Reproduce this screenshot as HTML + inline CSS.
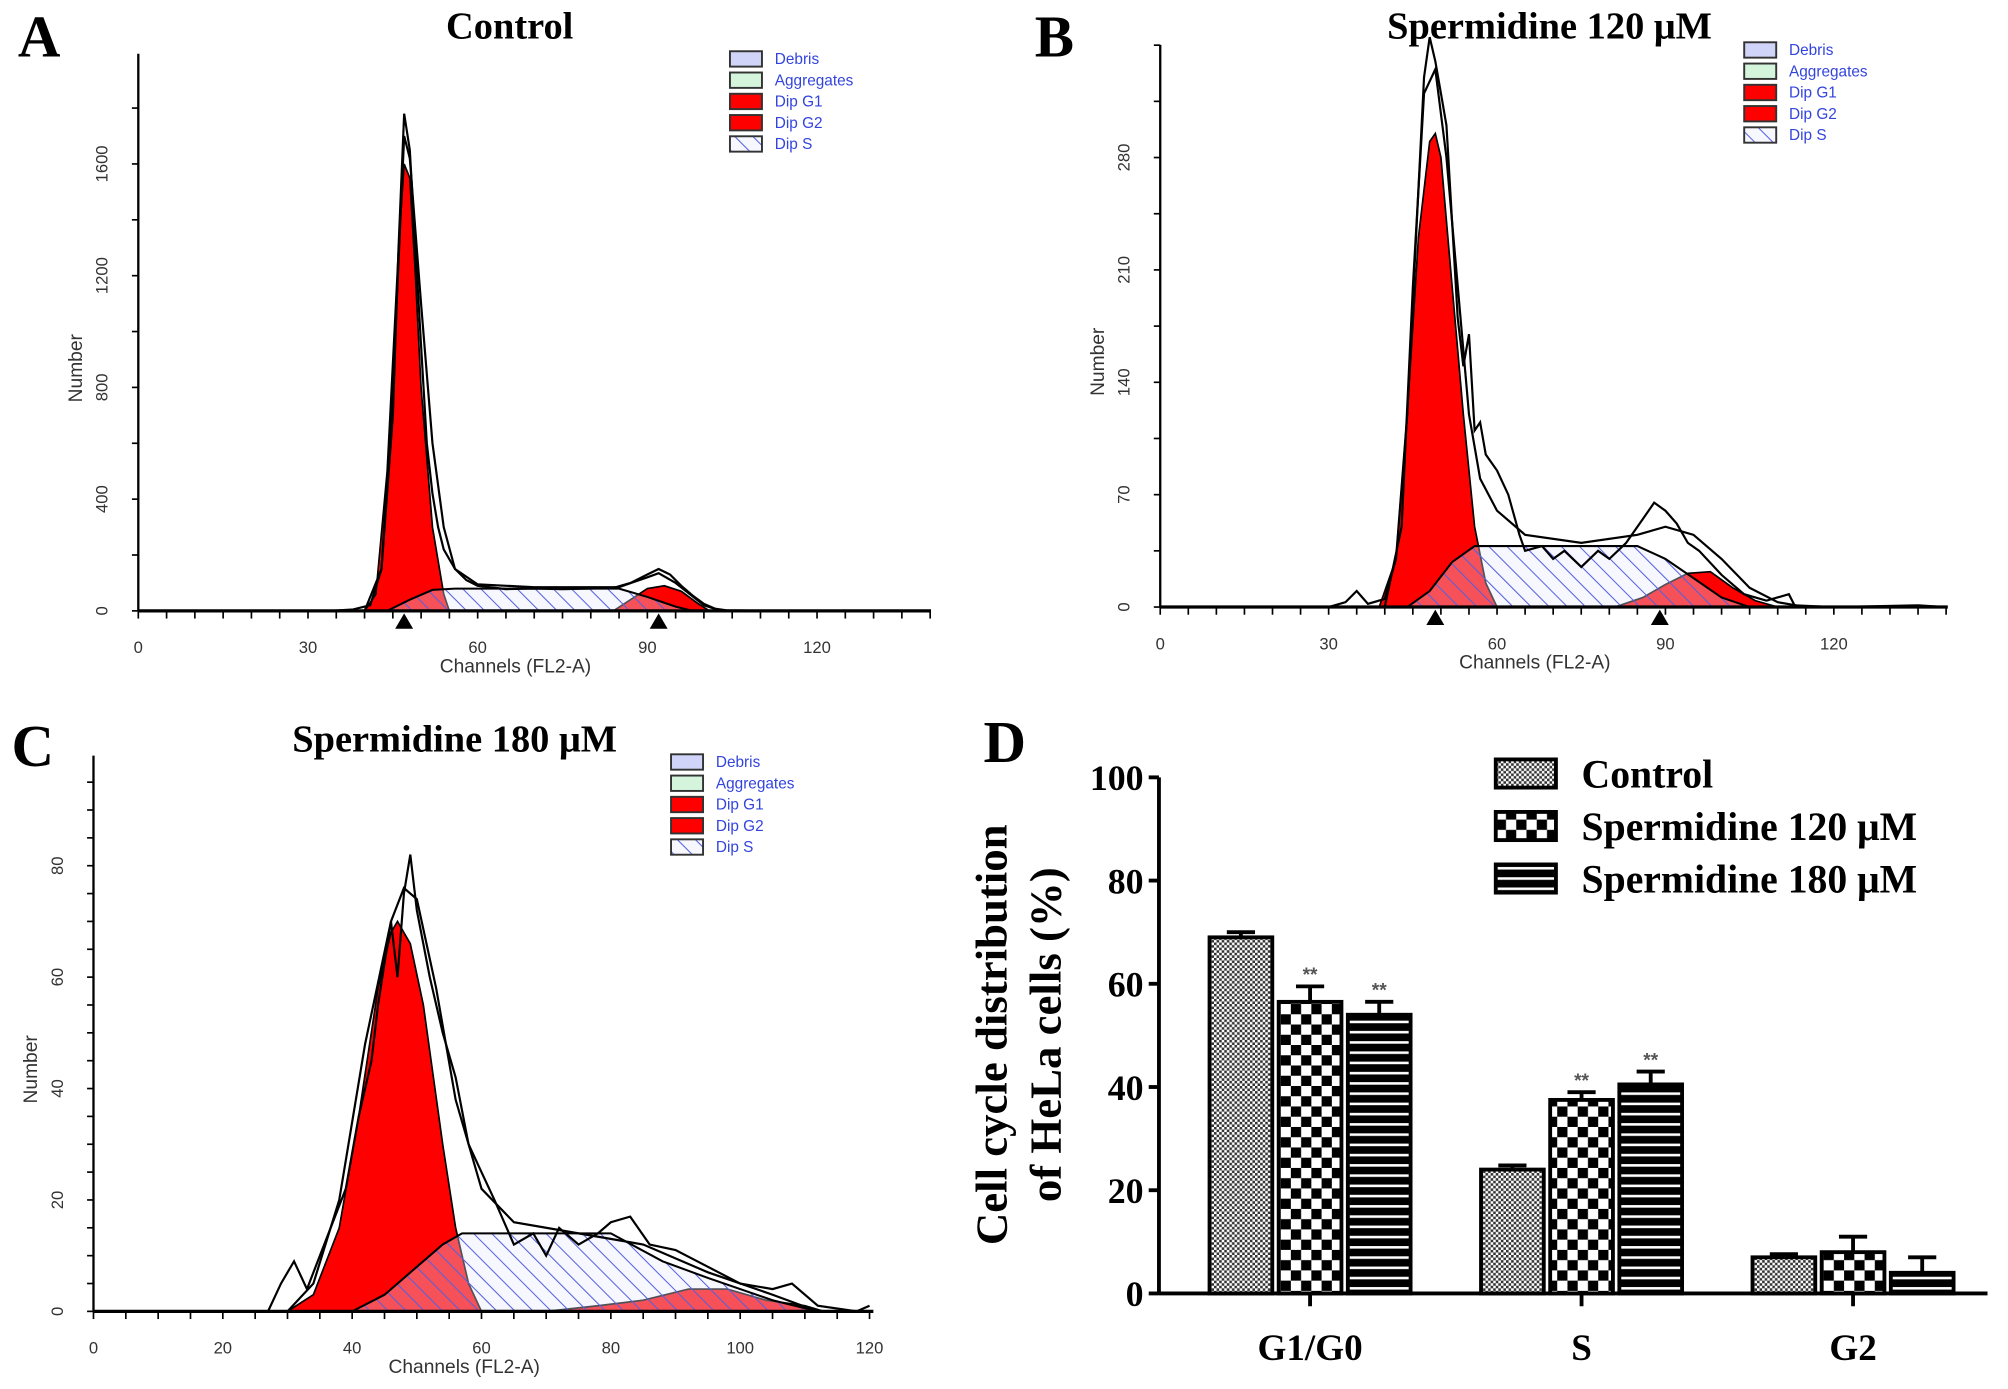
<!DOCTYPE html>
<html><head><meta charset="utf-8"><style>
html,body{margin:0;padding:0;background:#fff}
svg{display:block}
.t{font-family:"Liberation Sans",sans-serif;fill:#333}
.s{font-family:"Liberation Serif",serif;font-weight:bold;fill:#000}
.lg{font-family:"Liberation Sans",sans-serif;fill:#3344dd;font-size:12px}
</style></head><body>
<svg id="fig" width="2008" height="1389" viewBox="0 0 1568 1084.6" xmlns="http://www.w3.org/2000/svg">
<defs>
<pattern id="hatch" width="10" height="10" patternUnits="userSpaceOnUse" patternTransform="rotate(-45)">
<rect width="10" height="10" fill="rgba(230,232,255,0.35)"/><line x1="0" y1="0" x2="0" y2="10" stroke="#5560dd" stroke-width="1.6"/></pattern>
<pattern id="pCtrl" width="4" height="4" patternUnits="userSpaceOnUse"><rect width="4" height="4" fill="#fff"/><rect width="2" height="2" fill="#333"/><rect x="2" y="2" width="2" height="2" fill="#333"/></pattern>
<pattern id="p120" width="16" height="16" patternUnits="userSpaceOnUse"><rect width="16" height="16" fill="#fff"/><rect width="8" height="8" fill="#000"/><rect x="8" y="8" width="8" height="8" fill="#000"/></pattern>
<pattern id="p180" width="8" height="8" patternUnits="userSpaceOnUse"><rect width="8" height="8" fill="#000"/><rect y="5" width="8" height="2" fill="#fff"/></pattern>
</defs>
<g id="root"></g>
</svg>
<script>
// ---- Panel A data (channel, count)
const aOutline=[[0,0],[34,0],[38,5],[41,20],[43,150],[45,700],[46,1300],[47,1780],[48,1650],[49,1300],[50,950],[51,600],[52,420],[53,300],[54,220],[56,150],[58,110],[60,90],[65,78],[70,80],[75,78],[80,80],[84,82],[87,100],[90,130],[92,150],[94,130],[96,90],[98,55],[100,25],[102,8],[104,2],[108,1],[140,0]];
const aFit=[[40,0],[43,150],[45,800],[47,1700],[48,1620],[50,1100],[52,600],[54,300],[56,150],[60,95],[70,85],[85,85],[90,120],[92,135],[95,100],[100,20],[103,0]];
const aG1=[[40,0],[42,60],[44,500],[46,1300],[47,1600],[48,1550],[49,1200],[50,800],[52,300],[54,60],[55,0]];
const aS=[[44,0],[48,40],[52,75],[56,80],[85,80],[90,50],[95,15],[98,0]];
const aG2=[[84,0],[87,40],[90,80],[93,90],[96,70],[99,25],[101,0]];
const aTri=[47,92];
const aXTicks=[0,30,60,90,120];
const aYTicks=[0,400,800,1200,1600];
// ---- Panel B data
const bOutline=[[0,0],[30,0],[33,3],[35,10],[37,2],[40,5],[42,30],[44,120],[46,260],[47,330],[48,355],[49,340],[50,320],[51,300],[52,240],[53,180],[54,150],[55,170],[56,110],[57,115],[58,95],[60,85],[62,70],[64,45],[65,35],[68,38],[70,30],[72,35],[75,25],[78,35],[80,30],[83,40],[86,55],[88,65],[90,60],[92,52],[94,40],[96,35],[100,20],[104,8],[108,4],[112,8],[113,1],[120,0],[135,1],[140,0]];
const bFit=[[40,0],[43,50],[45,200],[47,320],[49,335],[51,280],[53,200],[55,120],[57,80],[60,60],[65,45],[75,40],[85,45],[90,50],[95,45],[100,30],[105,12],[110,3],[115,0]];
const bG1=[[39,0],[42,30],[44,120],[46,230],[48,290],[49,295],[50,280],[52,200],[54,120],[56,50],[58,15],[60,0]];
const bS=[[44,0],[48,10],[52,28],[56,38],[58,38],[85,38],[90,30],[95,18],[100,6],[105,0]];
const bG2=[[81,0],[86,6],[90,14],[94,21],[98,22],[102,12],[106,4],[110,0]];
const bTri=[49,89];
const bXTicks=[0,30,60,90,120];
const bYTicks=[0,70,140,210,280];
// ---- Panel C data
const cOutline=[[0,0],[27,0],[29,5],[31,9],[33,4],[35,10],[37,16],[39,22],[41,35],[43,45],[44,55],[46,70],[47,60],[48,75],[49,82],[50,72],[52,60],[54,50],[56,42],[58,30],[60,25],[62,20],[65,12],[68,14],[70,10],[72,15],[75,12],[78,14],[80,16],[83,17],[86,12],[90,11],[95,8],[100,5],[105,4],[108,5],[112,1],[118,0],[120,1]];
const cFit=[[30,0],[34,5],[38,20],[42,48],[46,70],[48,76],[50,74],[53,58],[56,38],[60,22],[65,16],[75,14],[85,12],[95,7],[105,3],[112,0]];
const cG1=[[30,0],[34,3],[38,15],[41,35],[44,58],[46,68],[47,70],[49,66],[51,55],[54,30],[56,15],[58,5],[60,0]];
const cS=[[40,0],[45,3],[50,8],[54,12],[57,14],[80,14],[88,9],[95,6],[105,2],[112,0]];
const cG2=[[70,0],[78,1],[85,2],[92,4],[98,4],[104,2],[110,1],[113,0]];
const cXTicks=[0,20,40,60,80,100,120];
const cYTicks=[0,20,40,60,80];
// ---- Panel D bar data
const dCats=['G1/G0','S','G2'];
const dSeries=['Control','Spermidine 120 μM','Spermidine 180 μM'];
const dCtrl=[69,24,7];
const d120=[56.5,37.5,8];
const d180=[54,40.5,4];
const dErrCtrl=[1,0.8,0.6];
const dErr120=[3,1.5,3];
const dErr180=[2.5,2.5,3];
const dSig120=['**','**',''];
const dSig180=['**','**',''];
const dYTicks=[0,20,40,60,80,100];

const NS='http://www.w3.org/2000/svg';
const root=document.getElementById('root');
function mk(tag,attrs,parent,txt){const e=document.createElementNS(NS,tag);for(const k in attrs)e.setAttribute(k,attrs[k]);if(txt!==undefined)e.textContent=txt;(parent||root).appendChild(e);return e;}

function panel(id,cfg){
  const g=mk('g',{});
  
  
  const X=v=>cfg.x0+(v-cfg.xa)/(cfg.xb-cfg.xa)*(cfg.x1-cfg.x0);
  const Y=v=>cfg.y0-(v-cfg.ya)/(cfg.yb-cfg.ya)*(cfg.y0-cfg.y1);
  const poly=(arr)=>arr.map(p=>X(p[0]).toFixed(1)+','+Y(p[1]).toFixed(1)).join(' ');
  const g1=mk('polygon',{points:poly(cfg.g1),fill:'#ff0000',stroke:'#000','stroke-width':1.3},g);
  
  
  const g2=mk('polygon',{points:poly(cfg.g2),fill:'#ff0000',stroke:'#000','stroke-width':1.3},g);
  
  
  const s=mk('polygon',{points:poly(cfg.s),fill:'url(#hatch)',stroke:'#000','stroke-width':1.6},g);
  
  
  const f=mk('polyline',{points:poly(cfg.fit),fill:'none',stroke:'#000','stroke-width':1.7},g);
  
  
  const o=mk('polyline',{points:poly(cfg.outline),fill:'none',stroke:'#000','stroke-width':1.7},g);
  
  
  mk('line',{x1:cfg.x0,y1:cfg.y0,x2:cfg.xend,y2:cfg.y0,stroke:'#000','stroke-width':2.5},g);
  mk('line',{x1:cfg.x0,y1:cfg.y0,x2:cfg.x0,y2:cfg.ytop,stroke:'#000','stroke-width':1.8},g);
  const xs=cfg.xminor;for(let v=cfg.xa;X(v)<=cfg.xend;v+=xs){mk('line',{x1:X(v),y1:cfg.y0,x2:X(v),y2:cfg.y0+6,stroke:'#000','stroke-width':1.3},g);}
  const ys=cfg.yminor;for(let v=cfg.ya;Y(v)>=cfg.ytop;v+=ys){mk('line',{x1:cfg.x0-5,y1:Y(v),x2:cfg.x0,y2:Y(v),stroke:'#000','stroke-width':1.3},g);}
  cfg.xt.forEach(v=>{const t=mk('text',{x:X(v),y:cfg.y0+33,'text-anchor':'middle','font-size':13,class:'t'},g,String(v));
    });
  cfg.yt.forEach(v=>{const t=mk('text',{x:0,y:0,'text-anchor':'middle','font-size':13,class:'t',transform:`translate(${cfg.x0-24},${Y(v)}) rotate(-90)`},g,String(v));
    });
  (cfg.tri||[]).forEach(v=>{mk('polygon',{points:`${X(v)-7},${cfg.y0+14} ${X(v)+7},${cfg.y0+14} ${X(v)},${cfg.y0+2}`,fill:'#000'},g);});
  const xl=mk('text',{x:(cfg.x0+cfg.xend)/2-15,y:cfg.y0+48,'text-anchor':'middle','font-size':15,class:'t'},g,'Channels (FL2-A)');
  
  const yl=mk('text',{x:0,y:0,'text-anchor':'middle','font-size':15,class:'t',transform:`translate(${cfg.x0-44},${(cfg.y0+cfg.ytop)/2+28}) rotate(-90)`},g,'Number');
  
  const tt=mk('text',{x:cfg.tx,y:cfg.ty,'text-anchor':'middle','font-size':30,class:'s'},g,cfg.title);
  
  const L=mk('text',{x:cfg.lx,y:cfg.ly,'font-size':46,class:'s'},g,cfg.letter);
  
  const names=['Debris','Aggregates','Dip G1','Dip G2','Dip S'];
  const fills=['#d0d4f8','#d4f4dc','#ff0000','#ff0000','url(#hatch)'];
  names.forEach((n,i)=>{const yy=cfg.legY+i*16.6;
    const r=mk('rect',{x:cfg.legX,y:yy-6,width:25,height:12,fill:fills[i],stroke:'#333','stroke-width':1.5},g);
    
    const t=mk('text',{x:cfg.legX+35,y:yy+4,class:'lg'},g,n);
    });
}
panel('panel-a',{x0:108,x1:638,xa:0,xb:120,y0:477,y1:128,ya:0,yb:1600,xend:727,ytop:42,xminor:5,yminor:200,
  outline:aOutline,fit:aFit,g1:aG1,s:aS,g2:aG2,tri:aTri,xt:aXTicks,yt:aYTicks,title:'Control',tx:398,ty:30,letter:'A',lx:14,ly:44,legX:570,legY:46});
panel('panel-b',{x0:906,x1:1432,xa:0,xb:120,y0:474,y1:123,ya:0,yb:280,xend:1521,ytop:35,xminor:5,yminor:35,
  outline:bOutline,fit:bFit,g1:bG1,s:bS,g2:bG2,tri:bTri,xt:bXTicks,yt:bYTicks,title:'Spermidine 120 μM',tx:1210,ty:30,letter:'B',lx:808,ly:44,legX:1362,legY:39});
panel('panel-c',{x0:73,x1:679,xa:0,xb:120,y0:1024,y1:676,ya:0,yb:80,xend:682,ytop:590,xminor:5,yminor:5,
  outline:cOutline,fit:cFit,g1:cG1,s:cS,g2:cG2,tri:[],xt:cXTicks,yt:cYTicks,title:'Spermidine 180 μM',tx:355,ty:587,letter:'C',lx:9,ly:598,legX:524,legY:595});

// Panel D
(function(){
  const g=mk('g',{});
  
  
  const x0=905,y0=1010,y100=607;
  const Y=v=>y0-v/100*(y0-y100);
  const groupC=[1023,1235,1447];
  const bw=49,off=[-54,0,54];
  const series=[dCtrl,d120,d180],errs=[dErrCtrl,dErr120,dErr180],sig=[null,dSig120,dSig180];
  const pats=['url(#pCtrl)','url(#p120)','url(#p180)'];
  series.forEach((arr,si)=>{arr.forEach((v,ci)=>{
    const cx=groupC[ci]+off[si];
    const top=Y(v+errs[si][ci]);
    mk('line',{x1:cx,y1:Y(v),x2:cx,y2:top,stroke:'#000','stroke-width':3},g);
    mk('line',{x1:cx-11,y1:top,x2:cx+11,y2:top,stroke:'#000','stroke-width':3},g);
    const r=mk('rect',{x:cx-bw/2,y:Y(v),width:bw,height:y0-Y(v),fill:pats[si],stroke:'#000','stroke-width':3},g);
    
    
    if(sig[si]&&sig[si][ci]){const t=mk('text',{x:cx,y:top-4,'text-anchor':'middle','font-size':15,fill:'#555','font-family':'Liberation Sans, sans-serif','font-weight':'bold'},g,sig[si][ci]);
      }
  });});
  mk('line',{x1:x0,y1:y0,x2:1552,y2:y0,stroke:'#000','stroke-width':3},g);
  mk('line',{x1:x0,y1:y0,x2:x0,y2:y100,stroke:'#000','stroke-width':3},g);
  dYTicks.forEach(v=>{mk('line',{x1:x0-8,y1:Y(v),x2:x0,y2:Y(v),stroke:'#000','stroke-width':3},g);
    const t=mk('text',{x:x0-12,y:Y(v)+10,'text-anchor':'end','font-size':28,class:'s'},g,String(v));
    });
  dCats.forEach((c,i)=>{mk('line',{x1:groupC[i],y1:y0,x2:groupC[i],y2:y0+10,stroke:'#000','stroke-width':3},g);
    const t=mk('text',{x:groupC[i],y:y0+52,'text-anchor':'middle','font-size':29,class:'s'},g,c);
    });
  const yl=mk('text',{x:0,y:0,'text-anchor':'middle','font-size':35,class:'s',transform:'translate(790,808) rotate(-90)'},g);
  
  mk('tspan',{x:0,dy:-4},yl,'Cell cycle distribution');
  mk('tspan',{x:0,dy:42},yl,'of HeLa cells (%)');
  dSeries.forEach((s,i)=>{const yy=604+i*41;
    const r=mk('rect',{x:1168,y:yy-11,width:47,height:22,fill:pats[i],stroke:'#000','stroke-width':3},g);
    
    const t=mk('text',{x:1235,y:yy+11,'font-size':31,class:'s'},g,s);
    });
  const L=mk('text',{x:768,y:595,'font-size':46,class:'s'},g,'D');
  
})();
</script>
</body></html>
